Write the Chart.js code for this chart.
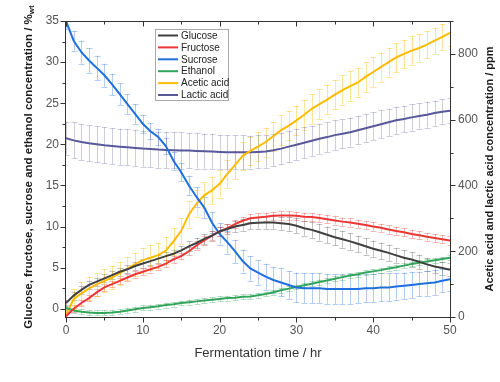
<!DOCTYPE html>
<html><head><meta charset="utf-8">
<script src="https://cdn.jsdelivr.net/npm/chart.js@4.4.1/dist/chart.umd.min.js"></script>
<style>html,body{margin:0;padding:0;background:#fff}</style>
</head><body>
<canvas id="c" width="500" height="382"></canvas>
<script>
// ---- data ----
const hours = [0,1,2,3,4,5,6,7,8,9,10,11,12,13,14,15,16,17,18,19,20,21,22,23,24,25,26,27,28,29,30,31,32,33,34,35,36,37,38,39,40,41,42,43,44,45,46,47,48,49,50];

const glucose = [0.7,1.6,2.3,2.9,3.3,3.7,4.1,4.5,4.8,5.2,5.5,5.8,6.1,6.4,6.7,7.1,7.6,8.0,8.5,8.9,9.4,9.7,10.0,10.2,10.4,10.45,10.5,10.5,10.4,10.3,10.1,9.8,9.6,9.3,9.0,8.7,8.45,8.2,7.9,7.6,7.3,7.05,6.8,6.5,6.2,6.0,5.7,5.4,5.15,4.95,4.75];
const fructose = [-0.9,0.0,0.7,1.3,2.0,2.6,3.0,3.4,3.8,4.2,4.5,4.8,5.1,5.5,6.0,6.4,7.0,7.7,8.3,8.9,9.4,9.8,10.3,10.7,11.0,11.1,11.2,11.3,11.35,11.35,11.3,11.2,11.15,11.05,10.9,10.75,10.6,10.5,10.35,10.2,10.0,9.85,9.65,9.45,9.3,9.1,8.95,8.75,8.6,8.45,8.3];
const sucrose = [35.0,32.6,31.2,30.2,29.3,28.4,27.3,26.1,24.9,23.7,22.5,21.6,20.9,19.8,18.0,16.6,15.0,13.6,12.3,10.5,9.1,8.1,7.0,5.8,4.9,4.4,3.9,3.5,3.2,2.9,2.6,2.5,2.5,2.5,2.4,2.4,2.4,2.4,2.4,2.5,2.5,2.6,2.6,2.7,2.8,2.9,3.0,3.1,3.2,3.4,3.6];
const ethanol = [0.1,-0.2,-0.35,-0.45,-0.5,-0.5,-0.45,-0.35,-0.2,-0.05,0.1,0.2,0.3,0.45,0.55,0.7,0.8,0.9,1.0,1.1,1.2,1.3,1.35,1.45,1.5,1.65,1.8,2.0,2.25,2.45,2.65,2.85,3.05,3.25,3.45,3.65,3.85,4.05,4.2,4.4,4.55,4.7,4.9,5.05,5.25,5.45,5.6,5.75,5.9,6.05,6.2];
const aceticAcid = [6,55,72,87,99,110,120,133,147,161,173,180,188,202,230,262,312,345,370,385,405,435,462,490,505,518,532,550,568,582,598,615,633,647,661,676,690,702,713,730,745,760,775,789,800,810,818,828,840,852,864];
const lacticAcid = [544,537,532,528,525,522,520,518,516,514,512,511,509,508,507,506,506,505,504,503,502,501,501,501,501,502,503,507,512,518,524,530,536,542,547,553,557,562,568,574,580,586,592,598,602,607,611,615,620,624,627];

// error bar half-widths
const glucoseErr = [0.4,0.5,0.5,0.5,0.5,0.5,0.5,0.5,0.5,0.5,0.5,0.5,0.5,0.5,0.5,0.5,0.6,0.6,0.6,0.6,0.6,0.6,0.7,0.7,0.7,0.7,0.8,0.8,0.8,0.9,0.9,0.9,1.0,1.0,1.0,1.0,1.0,1.0,1.0,1.0,1.0,1.0,1.0,0.9,0.9,0.9,0.9,0.8,0.8,0.8,0.8];
const fructoseErr = [0.4,0.4,0.4,0.4,0.4,0.4,0.4,0.4,0.4,0.4,0.4,0.4,0.4,0.4,0.4,0.4,0.5,0.5,0.5,0.5,0.5,0.5,0.5,0.5,0.5,0.5,0.5,0.5,0.5,0.5,0.5,0.5,0.5,0.5,0.5,0.5,0.5,0.5,0.5,0.5,0.5,0.5,0.5,0.5,0.5,0.5,0.5,0.5,0.5,0.5,0.5];
const sucroseErr = [1.0,1.2,1.4,1.5,1.5,1.4,1.3,1.3,1.2,1.2,1.1,1.0,1.0,1.0,1.1,1.1,1.2,1.2,1.3,1.3,1.3,1.4,1.4,1.4,1.5,1.5,1.6,1.6,1.7,1.7,1.8,1.8,1.8,1.8,1.8,1.8,1.8,1.8,1.7,1.7,1.7,1.7,1.7,1.6,1.6,1.6,1.5,1.5,1.5,1.4,1.4];
const ethanolErr = [0.3,0.3,0.3,0.3,0.3,0.3,0.3,0.3,0.3,0.3,0.3,0.3,0.3,0.3,0.3,0.3,0.3,0.3,0.3,0.3,0.3,0.3,0.3,0.3,0.3,0.3,0.3,0.3,0.3,0.3,0.3,0.3,0.3,0.3,0.3,0.3,0.3,0.3,0.3,0.3,0.3,0.3,0.3,0.3,0.3,0.3,0.3,0.3,0.3,0.3,0.3];
const aceticErr = [20,30,35,35,35,35,35,35,35,35,38,38,38,40,40,40,40,40,40,40,42,42,42,42,42,44,44,44,45,45,45,45,45,45,45,45,45,45,45,45,45,44,44,44,43,43,42,42,40,40,40];
const lacticErr = [50,55,55,55,55,55,55,55,55,55,55,55,55,55,55,55,54,54,53,53,52,52,51,51,50,50,49,49,48,48,47,47,46,46,45,45,44,44,43,43,42,42,41,41,40,40,39,39,38,38,38];

// tick labels
const xMajor = [0,10,20,30,40,50];
const xMinor = [5,15,25,35,45];
const leftMajor = [0,5,10,15,20,25,30,35];
const leftMinor = [2.5,7.5,12.5,17.5,22.5,27.5,32.5];
const rightMajor = [0,200,400,600,800];
const rightMinor = [100,300,500,700,900];

const FONT = "'Liberation Sans', Arial, Helvetica, sans-serif";

function pts(arr){ return hours.map((h,i)=>({x:h,y:arr[i]})); }
function ds(label, arr, err, color, errColor, axis){
  return {label, data: pts(arr), err, errColor, yAxisID: axis,
    borderColor: color, backgroundColor: color, borderWidth: 2,
    pointRadius: 0, tension: 0, fill: false};
}

const datasets = [
  ds('Glucose', glucose, glucoseErr, '#404040', 'rgba(80,80,80,0.35)', 'yL'),
  ds('Fructose', fructose, fructoseErr, '#ee3535', 'rgba(238,53,53,0.35)', 'yL'),
  ds('Sucrose', sucrose, sucroseErr, '#1f6fdc', 'rgba(31,111,220,0.35)', 'yL'),
  ds('Ethanol', ethanol, ethanolErr, '#32a45c', 'rgba(50,164,92,0.35)', 'yL'),
  ds('Acetic acid', aceticAcid, aceticErr, '#ffbb00', 'rgba(255,187,0,0.4)', 'yR'),
  ds('Lactic acid', lacticAcid, lacticErr, '#58589a', 'rgba(88,88,154,0.3)', 'yR')
];

const decor = {
  id: 'decor',
  beforeDatasetsDraw(chart){
    const ctx = chart.ctx, a = chart.chartArea, xs = chart.scales.x;
    ctx.save();
    ctx.beginPath(); ctx.rect(a.left, a.top, a.right-a.left, a.bottom-a.top); ctx.clip();
    ctx.lineWidth = 1;
    chart.data.datasets.forEach(d=>{
      const ys = chart.scales[d.yAxisID];
      ctx.strokeStyle = d.errColor;
      ctx.beginPath();
      d.data.forEach((p,i)=>{
        const e = d.err[i];
        const x = Math.round(xs.getPixelForValue(p.x))+0.5;
        const y1 = ys.getPixelForValue(p.y - e), y2 = ys.getPixelForValue(p.y + e);
        ctx.moveTo(x, y1); ctx.lineTo(x, y2);
        ctx.moveTo(x-3, Math.round(y1)+0.5); ctx.lineTo(x+3, Math.round(y1)+0.5);
        ctx.moveTo(x-3, Math.round(y2)+0.5); ctx.lineTo(x+3, Math.round(y2)+0.5);
      });
      ctx.stroke();
    });
    ctx.restore();
  },
  afterDatasetsDraw(chart){
    const ctx = chart.ctx, a = chart.chartArea;
    const xs = chart.scales.x, yl = chart.scales.yL, yr = chart.scales.yR;
    ctx.save();
    // frame
    ctx.strokeStyle = '#333'; ctx.lineWidth = 1;
    ctx.strokeRect(Math.round(a.left)-0.5, Math.round(a.top)+0.5, Math.round(a.right-a.left)+1, Math.round(a.bottom-a.top));
    // ticks
    ctx.beginPath();
    const L = Math.round(a.left)-0.5, R = Math.round(a.right)+0.5, T = Math.round(a.top)+0.5, B = Math.round(a.bottom)+0.5;
    xMajor.forEach(v=>{ const x=Math.round(xs.getPixelForValue(v))+0.5; ctx.moveTo(x,B); ctx.lineTo(x,B+5); ctx.moveTo(x,T); ctx.lineTo(x,T+5); });
    xMinor.forEach(v=>{ const x=Math.round(xs.getPixelForValue(v))+0.5; ctx.moveTo(x,B); ctx.lineTo(x,B+3); ctx.moveTo(x,T); ctx.lineTo(x,T+3); });
    leftMajor.forEach(v=>{ const y=Math.round(yl.getPixelForValue(v))+0.5; ctx.moveTo(L,y); ctx.lineTo(L-5,y); });
    leftMinor.forEach(v=>{ const y=Math.round(yl.getPixelForValue(v))+0.5; ctx.moveTo(L,y); ctx.lineTo(L-3,y); });
    rightMajor.forEach(v=>{ const y=Math.round(yr.getPixelForValue(v))+0.5; ctx.moveTo(R,y); ctx.lineTo(R+5,y); });
    rightMinor.forEach(v=>{ const y=Math.round(yr.getPixelForValue(v))+0.5; ctx.moveTo(R,y); ctx.lineTo(R+3,y); });
    ctx.stroke();

    // legend
    const lx = 155, ly = 29, lw = 73, lh = 71, rowH = 11.9;
    ctx.fillStyle = '#fff';
    ctx.fillRect(lx, ly, lw, lh);
    ctx.strokeStyle = '#aaa'; ctx.lineWidth = 1;
    ctx.strokeRect(lx+0.5, ly+0.5, lw, lh);
    ctx.font = '10px ' + FONT; ctx.textBaseline = 'middle'; ctx.textAlign = 'left';
    chart.data.datasets.forEach((d,i)=>{
      const y = ly + 6.5 + i*rowH;
      ctx.strokeStyle = d.borderColor; ctx.lineWidth = 2;
      ctx.beginPath(); ctx.moveTo(lx+3, y); ctx.lineTo(lx+23, y); ctx.stroke();
      ctx.fillStyle = '#222';
      ctx.fillText(d.label, lx+26, y+0.5);
    });

    // axis titles
    ctx.fillStyle = '#1a1a1a';
    // left
    ctx.save();
    ctx.translate(29, 167);
    ctx.rotate(-Math.PI/2);
    const mainT = 'Glucose, fructose, sucrose and ethanol concentration / %';
    ctx.font = 'bold 11.5px ' + FONT;
    const w1 = ctx.measureText(mainT).width;
    ctx.font = 'bold 8px ' + FONT;
    const w2 = ctx.measureText('wt').width;
    const sx = -(w1+w2)/2;
    ctx.textAlign = 'left'; ctx.textBaseline = 'middle';
    ctx.font = 'bold 11.5px ' + FONT;
    ctx.fillText(mainT, sx, 0);
    ctx.font = 'bold 8px ' + FONT;
    ctx.fillText('wt', sx + w1, 3);
    ctx.restore();
    // right
    ctx.save();
    ctx.translate(490, 169);
    ctx.rotate(-Math.PI/2);
    ctx.font = 'bold 11px ' + FONT;
    ctx.textAlign = 'center'; ctx.textBaseline = 'middle';
    ctx.fillText('Acetic acid and lactic acid concentration / ppm', 0, 0);
    ctx.restore();
    // bottom
    ctx.font = '13px ' + FONT; ctx.textAlign = 'center'; ctx.textBaseline = 'middle';
    ctx.fillStyle = '#333';
    ctx.fillText('Fermentation time / hr', 258, 353);
    ctx.restore();
  }
};

const tickFont = {family: FONT, size: 12};
new Chart(document.getElementById('c'), {
  type: 'line',
  data: { datasets },
  options: {
    responsive: false, animation: false, devicePixelRatio: 1,
    layout: { padding: {top: 21, left: 0, right: 0, bottom: 0} },
    plugins: { legend: {display: false}, tooltip: {enabled: false} },
    scales: {
      x: { type: 'linear', position: 'bottom', min: 0, max: 50,
        afterBuildTicks: s => { s.ticks = xMajor.map(v=>({value:v})); },
        afterFit: s => { s.height = 65; },
        grid: {display: false, drawTicks: false}, border: {display: false},
        ticks: {font: tickFont, color: '#555', padding: 6, maxRotation: 0, autoSkip: false} },
      yL: { type: 'linear', position: 'left', min: -1, max: 35,
        afterBuildTicks: s => { s.ticks = leftMajor.map(v=>({value:v})); },
        afterFit: s => { s.width = 66; },
        grid: {display: false, drawTicks: false}, border: {display: false},
        ticks: {font: tickFont, color: '#555', padding: 7, autoSkip: false} },
      yR: { type: 'linear', position: 'right', min: 0, max: 900,
        afterBuildTicks: s => { s.ticks = rightMajor.map(v=>({value:v})); },
        afterFit: s => { s.width = 50; },
        grid: {display: false, drawTicks: false}, border: {display: false},
        ticks: {font: tickFont, color: '#555', padding: 8, autoSkip: false} }
    }
  },
  plugins: [decor]
});
</script>
</body></html>
